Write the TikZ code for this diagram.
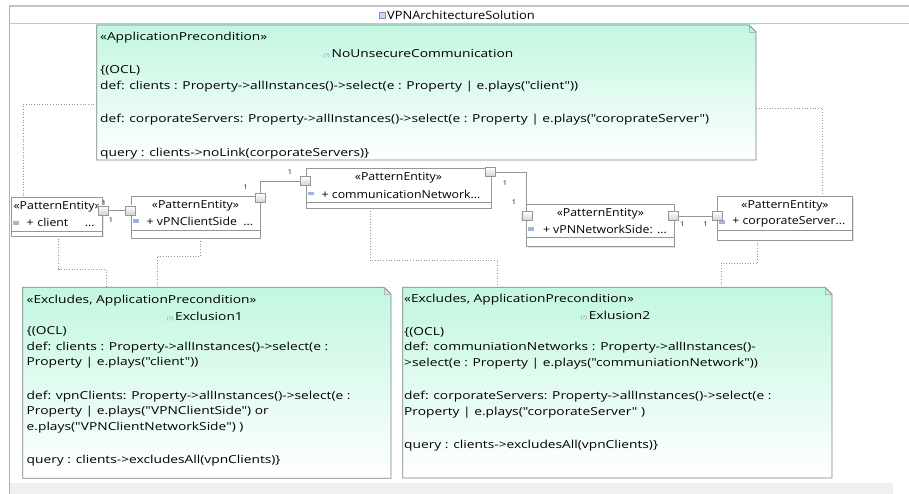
\documentclass[tikz,border=0pt]{standalone}
\usepackage{fontspec}
\setmainfont{Open Sans}[FakeStretch=1.12, Ligatures=TeXOff]
\newfontfamily\notefont{Open Sans}[FakeStretch=1.25, Ligatures=TeXOff]
\usetikzlibrary{calc,shadows}
\definecolor{notemint}{RGB}{194,247,224}
\definecolor{notegray}{RGB}{128,128,128}
\definecolor{boxgray}{RGB}{150,150,150}
\definecolor{icongray}{RGB}{120,150,200}
\newcommand{\pinmark}{{\fontsize{5}{5}\selectfont\color{icongray}(?)}\,}

\begin{document}
\begin{tikzpicture}
    [
        x=1pt, y=-1pt,
        every node/.style={inner sep=0pt, outer sep=0pt},
        note/.style={anchor=north west, top color=notemint, bottom color=white},
        noteline/.style={draw=notegray, line width=0.8pt},
        notetext/.style={anchor=north west, align=left, font=\notefont\fontsize{11}{15.5}\selectfont},
        notename/.style={font=\notefont\fontsize{11}{13}\selectfont},
        entity/.style={anchor=north west, draw=boxgray, fill=white, line width=0.8pt,
            drop shadow={shadow xshift=1pt, shadow yshift=-1pt, opacity=0.2}},
        stereo/.style={font=\fontsize{11}{13}\selectfont},
        attr/.style={anchor=west, font=\fontsize{11}{13}\selectfont},
        port/.style={draw=boxgray, top color=white, bottom color=gray!35, minimum width=10, minimum height=9},
        assoc/.style={draw=boxgray, line width=0.9pt},
        dep/.style={draw=gray!80, dotted, line width=0.7pt},
        mult/.style={font=\fontsize{6.5}{7}\selectfont}
    ]
    \useasboundingbox (0,0) rectangle (909,494);
    \fill[white] (0,0) rectangle (909,494);
    % frame and title
    \draw[gray!45, line width=1.2pt] (9,6) -- (909,6);
    \draw[gray!45, line width=1.2pt] (9,23.3) -- (909,23.3);
    \draw[gray!60, line width=0.8pt] (9,6) -- (9,494);
    \fill[gray!12] (10,483) rectangle (893,494);
    \node[font=\fontsize{11.5}{13}\selectfont] (title) at (461,15) {VPNArchitectureSolution};
    \draw[icongray, fill=icongray!40] ($(title.west)+(-8,-3)$) rectangle ++(6,6);

    % notes
    \node[note, minimum width=659.3, minimum height=135] (nounsec) at (96.7,25) {};
    \node[note, minimum width=368.3, minimum height=191] (excl1) at (22.7,287.3) {};
    \node[note, minimum width=429.3, minimum height=190.7] (excl2) at (402.7,287.3) {};
    \foreach \n in {nounsec,excl1,excl2} {
        \fill[white] ($(\n.north east)+(-7,0)$) -- (\n.north east) -- ($(\n.north east)+(0,7)$) -- cycle;
        \draw[noteline] (\n.north west) -- ($(\n.north east)+(-7,0)$) -- ($(\n.north east)+(0,7)$) -- (\n.south east) -- (\n.south west) -- cycle;
        \draw[notegray!60, line width=0.5pt] ($(\n.north east)+(-7,0)$) -- ($(\n.north east)+(-7,7)$) -- ($(\n.north east)+(0,7)$);
    }
    \node[notetext] (nounsec-txt) at ($(nounsec.north west)+(3.5,6.7)$) {«ApplicationPrecondition»\\[18pt]
        \{(OCL)\\
        def: clients : Property->allInstances()->select(e : Property | e.plays("client"))\\[18pt]
        def: corporateServers: Property->allInstances()->select(e : Property | e.plays("coroprateServer")\\[18pt]
        query : clients->noLink(corporateServers)\}};
    \node[notename] (nounsec-name) at ($(nounsec.north)+(-8,29)$) {\pinmark NoUnsecureCommunication};
    \node[notetext] (excl1-txt) at ($(excl1.north west)+(4,7.7)$) {«Excludes, ApplicationPrecondition»\\[16pt]
        \{(OCL)\\
        def: clients : Property->allInstances()->select(e :\\
        Property | e.plays("client"))\\[18pt]
        def: vpnClients: Property->allInstances()->select(e :\\
        Property | e.plays("VPNClientSide") or\\
        e.plays("VPNClientNetworkSide") )\\[18pt]
        query : clients->excludesAll(vpnClients)\}};
    \node[notename] (excl1-name) at ($(excl1.north)+(-2,29.4)$) {\pinmark Exclusion1};
    \node[notetext] (excl2-txt) at ($(excl2.north west)+(1.5,7)$) {«Excludes, ApplicationPrecondition»\\[17pt]
        \{(OCL)\\
        def: communiationNetworks : Property->allInstances()-\\
        >select(e : Property | e.plays("communiationNetwork"))\\[18pt]
        def: corporateServers: Property->allInstances()->select(e :\\
        Property | e.plays("corporateServer" )\\[18pt]
        query : clients->excludesAll(vpnClients)\}};
    \node[notename] (excl2-name) at ($(excl2.north)+(-2,28.7)$) {\pinmark Exlusion2};

    % pattern entities
    \node[entity, minimum width=91, minimum height=38.3] (client) at (11.7,197.7) {};
    \node[entity, minimum width=129, minimum height=42.3] (vpnclient) at (131,196) {};
    \node[entity, minimum width=185, minimum height=40] (commnet) at (306,168.3) {};
    \node[entity, minimum width=147.3, minimum height=42.7] (vpnnet) at (526.7,204) {};
    \node[entity, minimum width=135.4, minimum height=43.3] (corpserver) at (717.3,196.7) {};
    \foreach \n/\s in {client/5, vpnclient/8.3, commnet/6.3, vpnnet/9.7, corpserver/10} {
        \node[stereo] (\n-st) at ($(\n.north)+(0,9.3)$) {«PatternEntity»};
        \draw[boxgray, line width=0.6pt] ($(\n.south west)+(0,-\s)$) -- ($(\n.south east)+(0,-\s)$);
        \fill[icongray!70] ($(\n.north west)+(1.5,23.5)$) rectangle ++(6,3.5);
    }
    \node[attr, text width=68] (client-at) at ($(client.north west)+(15,25)$) {+ client\hfill...};
    \node[attr] (vpnclient-at) at ($(vpnclient.north west)+(15.7,25.7)$) {+ vPNClientSide\ \ ...};
    \node[attr] (commnet-at) at ($(commnet.north west)+(15.7,26)$) {+ communicationNetwork...};
    \node[attr] (vpnnet-at) at ($(vpnnet.north west)+(16.3,25)$) {+ vPNNetworkSide: ...};
    \node[attr] (corpserver-at) at ($(corpserver.north west)+(15,25.6)$) {+ corporateServer...};

    % ports and associations
    \node[port] (client-p) at (103,210.5) {};
    \node[port] (vpnclient-pl) at (130.5,210.5) {};
    \node[port] (vpnclient-pt) at (260.5,198) {};
    \node[port] (commnet-pl) at (305.5,181) {};
    \node[port] (commnet-pr) at (490,172) {};
    \node[port] (vpnnet-pl) at (526.7,216) {};
    \node[port] (vpnnet-pr) at (673.5,216) {};
    \node[port] (corpserver-p) at (717.3,216) {};
    \draw[assoc] (client-p) -- (vpnclient-pl);
    \draw[assoc] (vpnclient-pt.north) |- (commnet-pl.west);
    \draw[assoc] (commnet-pr.east) -| (vpnnet-pl.north);
    \draw[assoc] (vpnnet-pr) -- (corpserver-p);
    \foreach \p [count=\i] in {(104,203),(111,220),(245.7,186.7),(290,171.7),(505,182.7),(514,201.7),(682.3,224.3),(705.7,224.3)}
        \node[mult] (mult\i) at \p {1};

    % dependencies of the notes
    \draw[dep] ($(nounsec.west)+(0,11.5)$) -| ($(client.north)+(-33.9,0)$);
    \draw[dep] ($(nounsec.east)+(0,15.8)$) -| ($(corpserver.north)+(37.3,0)$);
    \draw[dep] ($(client.south)+(1.5,0)$) -- ++(0,33) -| ($(excl1.north west)+(83.3,0)$);
    \draw[dep] ($(vpnclient.south)+(4.5,0)$) -- ++(0,17.7) -| ($(excl1.north west)+(134.3,0)$);
    \draw[dep] ($(commnet.south)+(-28.5,0)$) -- ++(0,51.7) -| ($(excl2.north west)+(94.3,0)$);
    \draw[dep] ($(corpserver.south)+(-27.3,0)$) -- ++(0,23) -| ($(excl2.north west)+(318.3,0)$);
\end{tikzpicture}
\end{document}
